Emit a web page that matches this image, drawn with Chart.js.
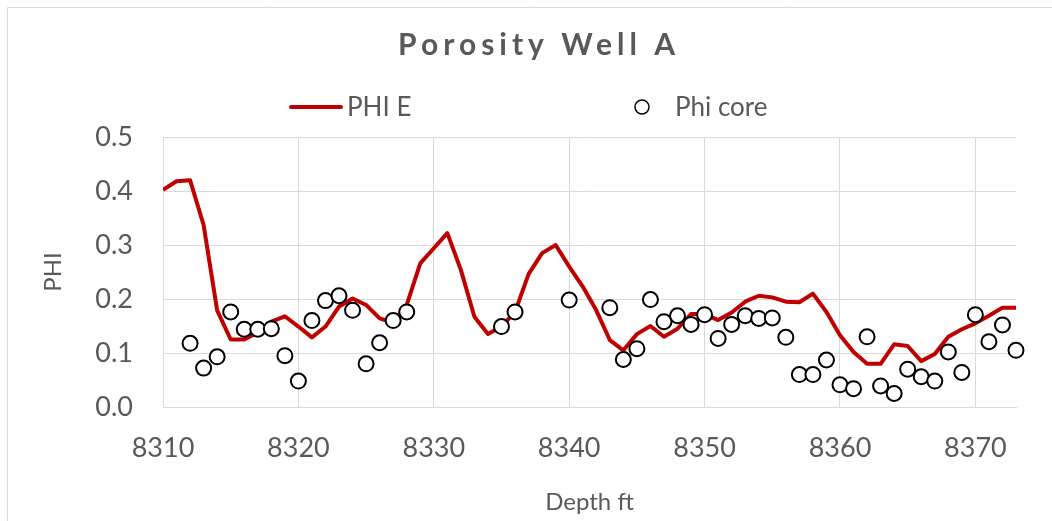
<!DOCTYPE html>
<html>
<head>
<meta charset="utf-8">
<script src="https://cdn.jsdelivr.net/npm/chart.js@4/dist/chart.umd.min.js"></script>
<style>
    html, body { margin: 0; padding: 0; background: #fff; }
    #wrap { width: 1052px; height: 521px; position: relative; }
</style>
</head>
<body>
<div id="wrap"><canvas id="porosityChart"></canvas></div>
<script>
// PHI E log curve, one value per foot
const lineDepth = [8310, 8311, 8312, 8313, 8314, 8315, 8316, 8317, 8318, 8319,
    8320, 8321, 8322, 8323, 8324, 8325, 8326, 8327, 8328, 8329,
    8330, 8331, 8332, 8333, 8334, 8335, 8336, 8337, 8338, 8339,
    8340, 8341, 8342, 8343, 8344, 8345, 8346, 8347, 8348, 8349,
    8350, 8351, 8352, 8353, 8354, 8355, 8356, 8357, 8358, 8359,
    8360, 8361, 8362, 8363, 8364, 8365, 8366, 8367, 8368, 8369,
    8370, 8371, 8372, 8373];
const phiE = [0.402, 0.418, 0.420, 0.337, 0.179, 0.125, 0.125, 0.138, 0.158, 0.168,
    0.149, 0.129, 0.149, 0.186, 0.201, 0.189, 0.164, 0.156, 0.189, 0.266,
    0.294, 0.322, 0.254, 0.167, 0.135, 0.149, 0.176, 0.246, 0.285, 0.300,
    0.260, 0.223, 0.179, 0.124, 0.105, 0.135, 0.150, 0.130, 0.145, 0.172,
    0.172, 0.161, 0.175, 0.195, 0.206, 0.203, 0.195, 0.194, 0.210, 0.176,
    0.133, 0.102, 0.080, 0.080, 0.116, 0.113, 0.085, 0.098, 0.130, 0.144,
    0.155, 0.169, 0.184, 0.184];

// core plug porosity
const coreDepth = [8312, 8313, 8314, 8315, 8316, 8317, 8318, 8319, 8320, 8321,
    8322, 8323, 8324, 8325, 8326, 8327, 8328, 8335, 8336, 8340,
    8343, 8344, 8345, 8346, 8347, 8348, 8349, 8350, 8351, 8352,
    8353, 8354, 8355, 8356, 8357, 8358, 8359, 8360, 8361, 8362,
    8363, 8364, 8365, 8366, 8367, 8368, 8369, 8370, 8371, 8372, 8373];
const phiCore = [0.118, 0.072, 0.093, 0.176, 0.144, 0.144, 0.145, 0.095, 0.048, 0.160,
    0.197, 0.206, 0.179, 0.080, 0.119, 0.160, 0.176, 0.149, 0.176, 0.198,
    0.184, 0.088, 0.108, 0.199, 0.158, 0.169, 0.153, 0.171, 0.127, 0.153,
    0.169, 0.164, 0.165, 0.129, 0.060, 0.060, 0.087, 0.041, 0.034, 0.130,
    0.039, 0.025, 0.070, 0.056, 0.048, 0.102, 0.064, 0.171, 0.121, 0.152, 0.105];

const xTicks = [8310, 8320, 8330, 8340, 8350, 8360, 8370];
const yTicks = [0.0, 0.1, 0.2, 0.3, 0.4, 0.5];

const titleText = 'Porosity Well A';
const seriesNames = ['PHI E', 'Phi core'];

const textGray = '#595959';
const gridGray = '#d9d9d9';
const lineRed = '#c00000';
const fontFamily = 'Lato, "Open Sans", sans-serif';

// title, legend and chart border drawn by hand (Excel-like spacing)
const decorPlugin = {
    id: 'decor',
    beforeDraw(chart) {
        const ctx = chart.ctx;
        ctx.save();
        ctx.strokeStyle = gridGray;
        ctx.lineWidth = 1;
        ctx.beginPath();
        ctx.moveTo(7.5, chart.height);
        ctx.lineTo(7.5, 7.5);
        ctx.lineTo(chart.width, 7.5);
        ctx.stroke();
        ctx.restore();
    },
    afterDraw(chart) {
        const ctx = chart.ctx;
        ctx.save();
        ctx.fillStyle = textGray;
        ctx.font = 'bold 30px ' + fontFamily;
        ctx.letterSpacing = '5px';
        ctx.textAlign = 'center';
        ctx.textBaseline = 'alphabetic';
        ctx.fillText(titleText, 539, 55);
        ctx.letterSpacing = '0px';

        // legend: line item
        ctx.strokeStyle = lineRed;
        ctx.lineWidth = 4;
        ctx.lineCap = 'round';
        ctx.beginPath();
        ctx.moveTo(291, 107);
        ctx.lineTo(341, 107);
        ctx.stroke();
        ctx.font = '26px ' + fontFamily;
        ctx.textAlign = 'left';
        ctx.fillText(seriesNames[0], 347, 116);

        // legend: marker item
        ctx.strokeStyle = '#000';
        ctx.fillStyle = '#fff';
        ctx.lineWidth = 1.5;
        ctx.beginPath();
        ctx.arc(642, 107, 7, 0, Math.PI * 2);
        ctx.fill();
        ctx.stroke();
        ctx.fillStyle = textGray;
        ctx.fillText(seriesNames[1], 675, 116);
        ctx.restore();
    }
};

const createChart = () => {
    const ctx = document.getElementById('porosityChart').getContext('2d');
    new Chart(ctx, {
        type: 'line',
        data: {
            datasets: [{
                type: 'scatter',
                label: seriesNames[1],
                data: coreDepth.map((d, i) => ({ x: d, y: phiCore[i] })),
                pointRadius: 7.5,
                pointBorderWidth: 2,
                pointBackgroundColor: '#ffffff',
                pointBorderColor: '#000000',
                showLine: false,
                clip: false,
                order: 0
            }, {
                type: 'line',
                label: seriesNames[0],
                data: lineDepth.map((d, i) => ({ x: d, y: phiE[i] })),
                borderColor: lineRed,
                borderWidth: 4,
                borderJoinStyle: 'round',
                pointRadius: 0,
                tension: 0,
                fill: false,
                order: 1
            }]
        },
        options: {
            responsive: true,
            maintainAspectRatio: false,
            animation: false,
            layout: {
                padding: { top: 137, right: 36, bottom: 0, left: 0 }
            },
            scales: {
                x: {
                    type: 'linear',
                    min: 8310,
                    max: 8373,
                    afterFit: (scale) => { scale.height = 114; },
                    afterBuildTicks: (scale) => {
                        scale.ticks = xTicks.map(v => ({ value: v }));
                    },
                    ticks: {
                        color: textGray,
                        font: { family: fontFamily, size: 27 },
                        padding: 25,
                        maxRotation: 0,
                        callback: (v) => String(v)
                    },
                    grid: { color: gridGray, lineWidth: 1, drawTicks: false },
                    border: { color: gridGray },
                    title: {
                        display: true,
                        text: 'Depth ft',
                        color: textGray,
                        font: { family: fontFamily, size: 24 },
                        padding: { top: 0, bottom: 4 }
                    }
                },
                y: {
                    min: 0,
                    max: 0.5,
                    afterFit: (scale) => { scale.width = 163; },
                    afterBuildTicks: (scale) => {
                        scale.ticks = yTicks.map(v => ({ value: v }));
                    },
                    ticks: {
                        color: textGray,
                        font: { family: fontFamily, size: 27 },
                        padding: 30,
                        callback: (v) => Number(v).toFixed(1)
                    },
                    grid: { color: gridGray, lineWidth: 1, drawTicks: false },
                    border: { display: false },
                    title: {
                        display: true,
                        text: 'PHI',
                        color: textGray,
                        font: { family: fontFamily, size: 24 },
                        padding: { top: 39, bottom: 0 }
                    }
                }
            },
            plugins: {
                legend: { display: false },
                title: { display: false },
                tooltip: { enabled: false }
            }
        },
        plugins: [decorPlugin]
    });
};

createChart();
</script>
</body>
</html>
